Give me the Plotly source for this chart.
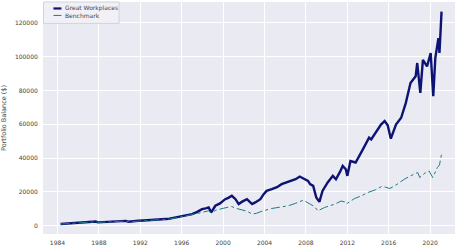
import plotly.graph_objects as go

# Great Workplaces portfolio (year, balance)
gw_years = [1984.3, 1984.8, 1985.3, 1985.8, 1986.3, 1986.8, 1987.3, 1987.7, 1987.9, 1988.3,
            1988.8, 1989.3, 1989.8, 1990.3, 1990.6, 1990.85, 1991.2, 1991.8, 1992.3, 1992.8,
            1993.3, 1993.8, 1994.3, 1994.8, 1995.07, 1995.5, 1996.0, 1996.5, 1997.0, 1997.5,
            1997.96, 1998.3, 1998.6, 1998.85, 1999.25, 1999.7, 2000.2, 2000.5, 2000.84, 2001.2,
            2001.5, 2001.8, 2002.3, 2002.55, 2002.8, 2003.1, 2003.6, 2003.9, 2004.2, 2004.7,
            2005.2, 2005.65, 2006.1, 2006.6, 2007.0, 2007.4, 2007.9, 2008.2, 2008.4, 2008.7,
            2009.0, 2009.3, 2009.6, 2010.1, 2010.6, 2010.9, 2011.3, 2011.55, 2011.85, 2012.0,
            2012.3, 2012.8, 2013.5, 2014.1, 2014.3, 2014.8, 2015.25, 2015.6, 2015.9, 2016.2,
            2016.7, 2017.2, 2017.65, 2018.1, 2018.6, 2018.75, 2019.05, 2019.3, 2019.7, 2020.05,
            2020.3, 2020.5, 2020.8, 2020.9, 2021.1]
gw_values = [1000, 1150, 1300, 1500, 1700, 1900, 2200, 2450, 2000, 2150,
             2400, 2600, 2750, 2800, 2850, 2350, 2650, 2900, 3100, 3250,
             3500, 3700, 3800, 4100, 4500, 5000, 5700, 6200, 6900, 8200,
             9800, 10300, 10800, 7900, 11800, 13200, 15700, 16500, 17700, 15700,
             12800, 14100, 15700, 14200, 12800, 13800, 15700, 18500, 20600, 21600,
             22800, 24600, 25500, 26500, 27500, 29100, 27500, 26500, 24600, 23600,
             16700, 14100, 20600, 25600, 29500, 27500, 32000, 35400, 33400, 29500,
             38300, 37400, 45200, 52100, 51100, 56000, 59900, 61900, 59400, 51500,
             59900, 63900, 72700, 84500, 88400, 96300, 78600, 98200, 94300, 102200,
             76600, 99300, 111000, 102200, 126700]

# Benchmark portfolio (year, balance)
bm_years = [1984.3, 1985.3, 1986.3, 1987.3, 1987.7, 1987.9, 1988.8, 1989.8, 1990.6, 1990.85,
            1991.8, 1992.8, 1993.8, 1994.8, 1995.5, 1996.0, 1996.5, 1997.0, 1997.5, 1998.0,
            1998.6, 1998.85, 1999.3, 2000.0, 2000.8, 2001.3, 2001.8, 2002.3, 2002.8, 2003.2,
            2003.8, 2004.7, 2005.5, 2006.3, 2007.0, 2007.75, 2008.4, 2008.8, 2009.15, 2009.8,
            2010.3, 2010.8, 2011.4, 2011.75, 2011.9, 2012.7, 2013.4, 2014.0, 2014.7, 2015.3,
            2015.7, 2016.1, 2016.8, 2017.5, 2018.1, 2018.8, 2019.0, 2019.5, 2019.9, 2020.25,
            2020.7, 2020.9, 2021.1]
bm_values = [1000, 1300, 1650, 2100, 2350, 1950, 2300, 2650, 2750, 2300,
             2800, 3150, 3550, 3900, 4700, 5400, 5800, 6300, 7200, 8000,
             8800, 7500, 9200, 10300, 11400, 10200, 9400, 8600, 6900, 7300,
             8700, 10200, 11000, 11800, 13300, 15100, 12800, 11500, 8800, 10800,
             11800, 12800, 14600, 14100, 12900, 16100, 17800, 19700, 21200, 23200,
             22800, 22000, 24500, 27500, 29500, 31500, 28500, 31200, 32400, 28500,
             34400, 36000, 42300]

series_names = ["Great Workplaces", "Benchmark"]
series_colors = ["#0d1373", "#1f7a86"]

x_ticks = [1984, 1988, 1992, 1996, 2000, 2004, 2008, 2012, 2016, 2020]
y_ticks = [0, 20000, 40000, 60000, 80000, 100000, 120000]

W, H = 460, 248
ML, MR, MT, MB = 41, 5, 2, 13
PW, PH = W - ML - MR, H - MT - MB


def px(x):  # pixel -> paper x
    return (x - ML) / PW


def py(y):  # pixel -> paper y
    return (H - MB - y) / PH


fig = go.Figure()
fig.add_trace(go.Scatter(x=gw_years, y=gw_values, mode="lines", name=series_names[0],
                         line=dict(color=series_colors[0], width=2.4)))
fig.add_trace(go.Scatter(x=bm_years, y=bm_values, mode="lines", name=series_names[1],
                         line=dict(color=series_colors[1], width=1, dash="dashdot")))

# compact legend box (matplotlib style)
shapes = [dict(type="rect", xref="paper", yref="paper", x0=px(41.5), x1=px(117.5),
               y0=py(23.5), y1=py(2.0), fillcolor="rgba(240,240,246,0.92)",
               line=dict(color="#d2d2da", width=1), layer="above")]
annotations = []
for i, (name, col) in enumerate(zip(series_names, series_colors)):
    yy = 8.5 + 7 * i
    shapes.append(dict(type="line", xref="paper", yref="paper", x0=px(51.5), x1=px(59.5),
                       y0=py(yy), y1=py(yy), layer="above",
                       line=dict(color=col, width=2.2 if i == 0 else 1,
                                 dash="solid" if i == 0 else "dashdot")))
    annotations.append(dict(text=name, xref="paper", yref="paper", x=px(61.5), y=py(yy),
                            xanchor="left", yanchor="middle", showarrow=False,
                            font=dict(size=6, color="#444444")))

font = "DejaVu Sans, Arial, sans-serif"
fig.update_layout(
    width=W, height=H,
    margin=dict(l=ML, r=MR, t=MT, b=MB),
    paper_bgcolor="white", plot_bgcolor="#EAEAF2",
    font=dict(family=font, size=6, color="#444444"),
    showlegend=False,
    shapes=shapes,
    annotations=annotations,
    xaxis=dict(range=[1982.6, 2022.4], tickvals=x_ticks, ticktext=[str(t) for t in x_ticks],
               showgrid=True, gridcolor="white", gridwidth=1, zeroline=False,
               showline=False, ticks="outside", ticklen=3, tickcolor="rgba(0,0,0,0)",
               tickfont=dict(size=6)),
    yaxis=dict(range=[-4900, 132400], tickvals=y_ticks, ticktext=[str(t) for t in y_ticks],
               showgrid=True, gridcolor="white", gridwidth=1, zeroline=False,
               showline=False, ticks="outside", ticklen=3, tickcolor="rgba(0,0,0,0)",
               tickfont=dict(size=6),
               title=dict(text="Portfolio Balance ($)", font=dict(size=6.5), standoff=8)),
)

fig.write_html("out.html")
